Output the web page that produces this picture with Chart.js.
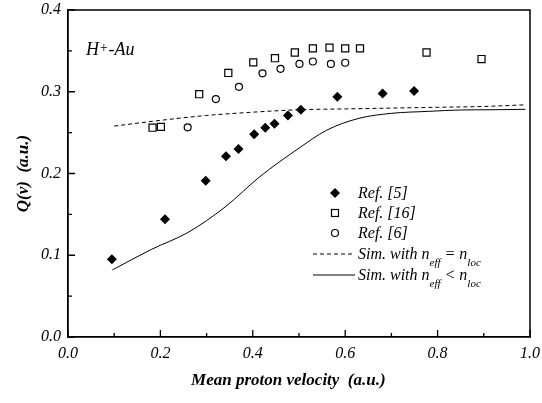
<!DOCTYPE html>
<html>
<head>
<meta charset="utf-8">
<script src="https://cdn.jsdelivr.net/npm/chart.js@4/dist/chart.umd.min.js"></script>
<style>
  html, body { margin: 0; padding: 0; background: #fff; }
  #wrap { width: 542px; height: 403px; }
</style>
</head>
<body>
<div id="wrap"><canvas id="chart"></canvas></div>
<script>
  // Ref. [5] (filled diamonds)
  const ref5V = [0.095, 0.21, 0.298, 0.342, 0.369, 0.403, 0.427, 0.447, 0.476, 0.504, 0.583, 0.681, 0.749];
  const ref5Q = [0.095, 0.144, 0.191, 0.221, 0.230, 0.248, 0.256, 0.261, 0.271, 0.278, 0.294, 0.298, 0.301];
  // Ref. [16] (open squares)
  const ref16V = [0.183, 0.201, 0.284, 0.347, 0.401, 0.448, 0.491, 0.530, 0.566, 0.600, 0.632, 0.776, 0.895];
  const ref16Q = [0.256, 0.257, 0.297, 0.323, 0.336, 0.341, 0.348, 0.353, 0.354, 0.353, 0.353, 0.348, 0.340];
  // Ref. [6] (open circles)
  const ref6V = [0.259, 0.320, 0.370, 0.421, 0.460, 0.501, 0.530, 0.569, 0.600];
  const ref6Q = [0.2565, 0.291, 0.306, 0.3225, 0.328, 0.334, 0.337, 0.334, 0.3355];
  // simulation, n_eff = n_loc (dashed)
  const simEqV = [0.1, 0.2, 0.3, 0.4, 0.5, 0.6, 0.7, 0.8, 0.9, 0.99];
  const simEqQ = [0.258, 0.265, 0.271, 0.275, 0.278, 0.279, 0.280, 0.281, 0.282, 0.284];
  // simulation, n_eff < n_loc (solid)
  const simLtV = [0.096, 0.18, 0.26, 0.34, 0.415, 0.5, 0.56, 0.63, 0.70, 0.78, 0.85, 0.92, 0.99];
  const simLtQ = [0.082, 0.107, 0.128, 0.159, 0.196, 0.231, 0.253, 0.2675, 0.2736, 0.276, 0.2777, 0.278, 0.2785];

  const xMajor = [0, 0.2, 0.4, 0.6, 0.8, 1.0];
  const xMinor = [0.1, 0.3, 0.5, 0.7, 0.9];
  const yMajor = [0, 0.1, 0.2, 0.3, 0.4];
  const yMinor = [0.05, 0.15, 0.25, 0.35];

  const serif = '"Liberation Serif", "DejaVu Serif", serif';
  const pts = (xs, ys) => xs.map((x, i) => ({ x: x, y: ys[i] }));

  // frame, inward ticks, label and legend
  const decor = {
    id: 'decor',
    afterDraw(chart) {
      const ctx = chart.ctx;
      const a = chart.chartArea;
      const sx = chart.scales.x, sy = chart.scales.y;
      ctx.save();
      ctx.strokeStyle = '#000';
      ctx.lineWidth = 1.5;
      ctx.beginPath();
      ctx.moveTo(a.left, a.top);
      ctx.lineTo(a.right, a.top);
      ctx.lineTo(a.right, a.bottom);
      ctx.stroke();

      ctx.lineWidth = 1.3;
      ctx.beginPath();
      xMajor.forEach(v => { const p = sx.getPixelForValue(v); ctx.moveTo(p, a.bottom); ctx.lineTo(p, a.bottom - 7); });
      xMinor.forEach(v => { const p = sx.getPixelForValue(v); ctx.moveTo(p, a.bottom); ctx.lineTo(p, a.bottom - 4); });
      yMajor.forEach(v => { const p = sy.getPixelForValue(v); ctx.moveTo(a.left, p); ctx.lineTo(a.left + 7, p); });
      yMinor.forEach(v => { const p = sy.getPixelForValue(v); ctx.moveTo(a.left, p); ctx.lineTo(a.left + 4, p); });
      ctx.stroke();

      // H+-Au
      ctx.fillStyle = '#000';
      ctx.textBaseline = 'alphabetic';
      ctx.font = 'italic 18px ' + serif;
      let tx = a.left + 18;
      ctx.fillText('H', tx, 55);
      tx += ctx.measureText('H').width;
      ctx.font = 'italic 14px ' + serif;
      ctx.fillText('+', tx, 52);
      tx += ctx.measureText('+').width;
      ctx.font = 'italic 18px ' + serif;
      ctx.fillText('-Au', tx, 55);

      // legend
      const mx = 335, lx = 358;
      ctx.font = 'italic 16px ' + serif;
      // diamond
      ctx.beginPath();
      ctx.moveTo(mx, 188); ctx.lineTo(mx + 5, 193); ctx.lineTo(mx, 198); ctx.lineTo(mx - 5, 193); ctx.closePath();
      ctx.fill();
      ctx.fillText('Ref. [5]', lx, 198);
      // square
      ctx.lineWidth = 1.2;
      ctx.strokeRect(mx - 3.5, 209.5, 7, 7);
      ctx.fillText('Ref. [16]', lx, 218);
      // circle
      ctx.beginPath();
      ctx.arc(mx, 233, 3.5, 0, Math.PI * 2);
      ctx.stroke();
      ctx.fillText('Ref. [6]', lx, 238);
      // dashed / solid samples
      ctx.lineWidth = 1;
      ctx.setLineDash([4, 3]);
      ctx.beginPath(); ctx.moveTo(313, 254); ctx.lineTo(355, 254); ctx.stroke();
      ctx.setLineDash([]);
      ctx.beginPath(); ctx.moveTo(313, 275); ctx.lineTo(355, 275); ctx.stroke();

      const simLabel = (y, rel) => {
        let x = lx;
        const seg = (t, size, dy) => {
          ctx.font = 'italic ' + size + 'px ' + serif;
          ctx.fillText(t, x, y + dy);
          x += ctx.measureText(t).width;
        };
        seg('Sim. with n', 16, 0);
        seg('eff', 11, 7);
        seg(' ' + rel + ' n', 16, 0);
        seg('loc', 11, 7);
      };
      simLabel(259, '=');
      simLabel(280, '<');
      ctx.restore();
    }
  };

  const ctx = document.getElementById('chart').getContext('2d');
  new Chart(ctx, {
    type: 'scatter',
    data: {
      datasets: [
        {
          label: 'Ref. [5]',
          data: pts(ref5V, ref5Q),
          pointStyle: 'rectRot',
          pointRadius: 5,
          backgroundColor: '#000',
          borderColor: '#000',
          borderWidth: 0,
        },
        {
          label: 'Ref. [16]',
          data: pts(ref16V, ref16Q),
          pointStyle: 'rect',
          pointRadius: 5,
          backgroundColor: 'rgba(0,0,0,0)',
          borderColor: '#000',
          borderWidth: 1.2,
        },
        {
          label: 'Ref. [6]',
          data: pts(ref6V, ref6Q),
          pointStyle: 'circle',
          pointRadius: 3.5,
          backgroundColor: 'rgba(0,0,0,0)',
          borderColor: '#000',
          borderWidth: 1.2,
        },
        {
          label: 'Sim. with n_eff = n_loc',
          data: pts(simEqV, simEqQ),
          showLine: true,
          pointRadius: 0,
          borderColor: '#000',
          borderWidth: 1,
          borderDash: [4, 3],
          cubicInterpolationMode: 'monotone',
        },
        {
          label: 'Sim. with n_eff < n_loc',
          data: pts(simLtV, simLtQ),
          showLine: true,
          pointRadius: 0,
          borderColor: '#000',
          borderWidth: 1,
          cubicInterpolationMode: 'monotone',
        },
      ],
    },
    options: {
      responsive: true,
      maintainAspectRatio: false,
      animation: false,
      layout: { padding: { top: 10, right: 12, left: 0, bottom: 0 } },
      plugins: {
        legend: { display: false },
        tooltip: { enabled: false },
      },
      scales: {
        x: {
          type: 'linear',
          min: 0,
          max: 1,
          afterFit: s => { s.height = 66; s.paddingLeft = 0; s.paddingRight = 0; },
          grid: { display: false, drawTicks: false },
          border: { display: true, color: '#000', width: 1.8 },
          ticks: {
            stepSize: 0.2,
            padding: 7,
            color: '#000',
            font: { family: serif, style: 'italic', size: 16 },
            callback: v => v.toFixed(1),
          },
          title: {
            display: true,
            text: 'Mean proton velocity  (a.u.)     ',
            color: '#000',
            font: { family: serif, style: 'italic', weight: 'bold', size: 17 },
            padding: { top: 0, bottom: 12 },
          },
        },
        y: {
          type: 'linear',
          min: 0,
          max: 0.4,
          afterFit: s => { s.width = 68; s.paddingTop = 0; s.paddingBottom = 0; },
          grid: { display: false, drawTicks: false },
          border: { display: true, color: '#000', width: 1.8 },
          ticks: {
            stepSize: 0.1,
            padding: 7,
            color: '#000',
            font: { family: serif, style: 'italic', size: 16 },
            callback: v => v.toFixed(1),
          },
          title: {
            display: true,
            text: 'Q(v)  (a.u.)',
            color: '#000',
            font: { family: serif, style: 'italic', weight: 'bold', size: 17 },
            padding: { top: 13, bottom: 0 },
          },
        },
      },
    },
    plugins: [decor],
  });
</script>
</body>
</html>
